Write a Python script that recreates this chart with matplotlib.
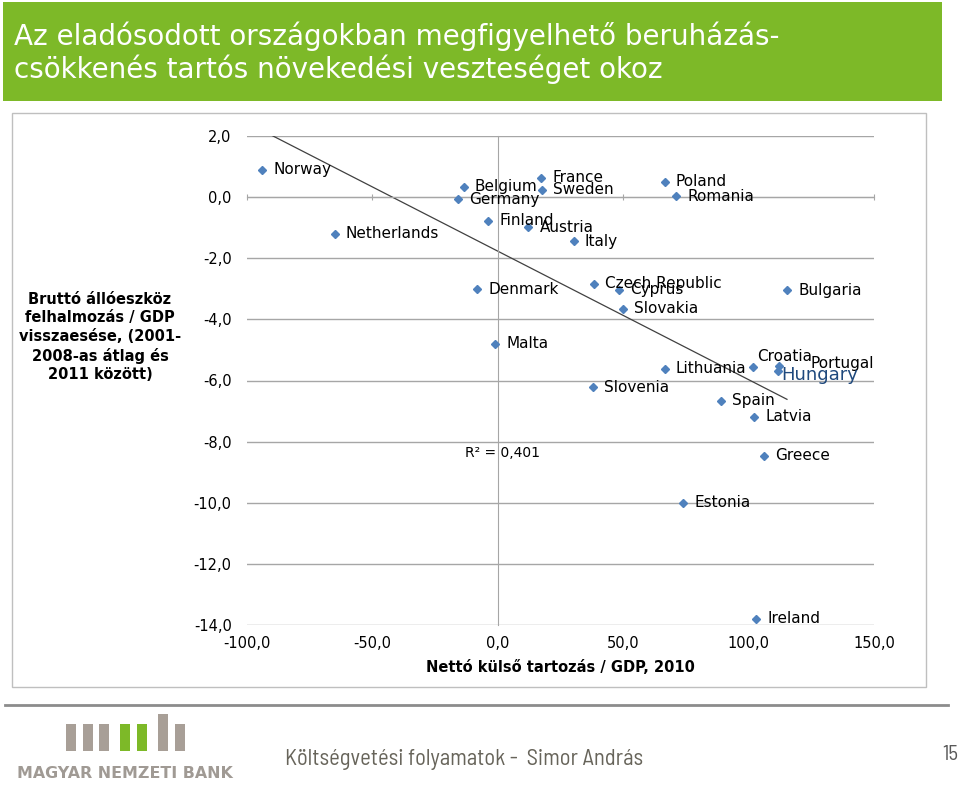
import matplotlib
matplotlib.use("Agg")
import matplotlib.pyplot as plt
from matplotlib.patches import Rectangle
import numpy as np

# ---------------- data ----------------
countries = ["Norway", "Netherlands", "Belgium", "Germany", "France", "Sweden",
             "Finland", "Austria", "Italy", "Denmark", "Malta", "Slovenia",
             "Czech Republic", "Cyprus", "Slovakia", "Poland", "Romania",
             "Bulgaria", "Lithuania", "Croatia", "Portugal", "Hungary",
             "Spain", "Latvia", "Greece", "Estonia", "Ireland"]
net_external_debt = [-94.0, -65.0, -13.6, -16.0, 17.2, 17.5,
                     -3.8, 12.2, 30.3, -8.2, -1.1, 38.1,
                     38.5, 48.2, 50.0, 66.5, 71.1,
                     115.3, 66.5, 101.6, 112.1, 111.8,
                     89.1, 102.2, 106.0, 74.0, 103.0]
investment_drop = [0.90, -1.20, 0.34, -0.07, 0.64, 0.24,
                   -0.77, -0.99, -1.45, -3.02, -4.79, -6.22,
                   -2.83, -3.03, -3.65, 0.50, 0.03,
                   -3.05, -5.61, -5.55, -5.53, -5.69,
                   -6.67, -7.18, -8.46, -10.00, -13.80]
x_ticks = [-100, -50, 0, 50, 100, 150]
y_ticks = [2, 0, -2, -4, -6, -8, -10, -12, -14]
r2_text = "R² = 0,401"

title_lines = ["Az eladósodott országokban megfigyelhető beruházás-",
               "csökkenés tartós növekedési veszteséget okoz"]
x_title = "Nettó külső tartozás / GDP, 2010"
y_title = "Bruttó állóeszköz\nfelhalmozás / GDP\nvisszaesése, (2001-\n2008-as átlag és\n2011 között)"
footer_text = "Költségvetési folyamatok -  Simor András"
bank_name = "MAGYAR NEMZETI BANK"
page_no = "15"

# ---------------- layout ----------------
W, H = 960, 787
fig = plt.figure(figsize=(9.6, 7.87), dpi=100)
fig.patch.set_facecolor("white")


def fx(p):
    return p / W


def fy(p):
    return 1 - p / H


def frect(x0, y0, x1, y1, **kw):
    r = Rectangle((fx(x0), fy(y1)), fx(x1) - fx(x0), fy(y0) - fy(y1),
                  transform=fig.transFigure, **kw)
    fig.patches.append(r)
    return r


GREEN = "#7DB928"
plt.rcParams["font.family"] = ["DejaVu Sans"]

# title banner
frect(3, 2, 942, 101, facecolor=GREEN, edgecolor="none", zorder=0)
fig.text(fx(14), fy(45), title_lines[0], color="white", fontsize=20, va="baseline", ha="left")
fig.text(fx(14), fy(78), title_lines[1], color="white", fontsize=20, va="baseline", ha="left")

# chart frame
frect(12, 113, 926, 687, facecolor="none", edgecolor="#BFBFBF", lw=1.0, zorder=0)

# axes
ax = fig.add_axes([fx(247), fy(625), fx(874) - fx(247), (625 - 136) / H])
ax.set_xlim(-100, 150)
ax.set_ylim(-14, 2)
ax.set_facecolor("none")
GRID = "#A6A6A6"
for s in ["top", "right"]:
    ax.spines[s].set_visible(False)
ax.spines["bottom"].set_position(("data", 0))
ax.spines["left"].set_position(("data", 0))
ax.spines["bottom"].set_color(GRID)
ax.spines["left"].set_color(GRID)
ax.set_xticks(x_ticks)
ax.set_yticks(y_ticks)
ax.tick_params(axis="x", direction="inout", length=5, color=GRID, labelbottom=False)
ax.tick_params(axis="y", length=0, labelleft=False)
ax.yaxis.grid(True, color=GRID, lw=1.0)
ax.set_axisbelow(True)


def fmt(v):
    return f"{v:.1f}".replace(".", ",")


secx = ax.secondary_xaxis("bottom")
secx.set_xticks(x_ticks)
secx.set_xticklabels([fmt(v) for v in x_ticks])
secx.tick_params(length=0, pad=8, labelsize=10.5)
for s in secx.spines.values():
    s.set_visible(False)

secy = ax.secondary_yaxis("left")
secy.set_yticks(y_ticks)
secy.set_yticklabels([fmt(v) for v in y_ticks])
secy.tick_params(length=0, pad=11, labelsize=10.5)
for s in secy.spines.values():
    s.set_visible(False)

# trend line (least squares)
xv = np.array(net_external_debt)
yv = np.array(investment_drop)
slope, intercept = np.polyfit(xv, yv, 1)
xl = np.array([xv.min(), xv.max()])
ax.plot(xl, slope * xl + intercept, color="#404040", lw=0.9, zorder=2)

# points
ax.plot(xv, yv, "D", ms=4.5, color="#4F81BD", mec="#4F81BD", zorder=3, clip_on=False)

label_offsets = {"Croatia": (3.6, 7.2), "Portugal": (23, 2.2), "Hungary": (2.2, -3.2)}
for name, x, y in zip(countries, xv, yv):
    dx, dy = label_offsets.get(name, (8, 0))
    if name == "Hungary":
        ax.annotate(name, (x, y), xytext=(dx, dy), textcoords="offset points",
                    ha="left", va="center", fontsize=13, color="#1F497D", zorder=4)
    else:
        ax.annotate(name, (x, y), xytext=(dx, dy), textcoords="offset points",
                    ha="left", va="center", fontsize=11, color="black", zorder=4)

ax.text(-13.1, -8.37, r2_text, fontsize=10, va="center", ha="left")

# axis titles
fig.text(fx(560), fy(667), x_title, ha="center", va="center", fontsize=10.5, fontweight="bold")
fig.text(fx(100), fy(337), y_title, ha="center", va="center", fontsize=10.5,
         fontweight="bold", linespacing=1.3)

# footer
fig.add_artist(plt.Line2D([fx(5), fx(948)], [fy(705), fy(705)], color="#8C8C8C", lw=2,
                          transform=fig.transFigure))
logo_gray = "#A89F97"
bars = [(66, 76, 724, logo_gray), (82.7, 92.7, 724, logo_gray), (99.3, 109.3, 724, logo_gray),
        (120.3, 130.3, 724, GREEN), (136.7, 146.7, 724, GREEN),
        (158, 168, 713.7, logo_gray), (174.7, 184.7, 724, logo_gray)]
for x0, x1, top, c in bars:
    frect(x0, top, x1, 750.7, facecolor=c, edgecolor="none")
fig.text(fx(125), fy(774), bank_name, ha="center", va="center", fontsize=11.4,
         fontweight="bold", color="#A09A94")
foot_family = ["Barlow Semi Condensed", "Asap Condensed", "DejaVu Sans"]
fig.text(fx(285), fy(759), footer_text, ha="left", va="center", fontsize=16.2,
         color="#67645A", family=foot_family)
fig.text(fx(958), fy(755), page_no, ha="right", va="center", fontsize=15,
         color="#595959", family=foot_family)

fig.savefig("out.png", dpi=100)
